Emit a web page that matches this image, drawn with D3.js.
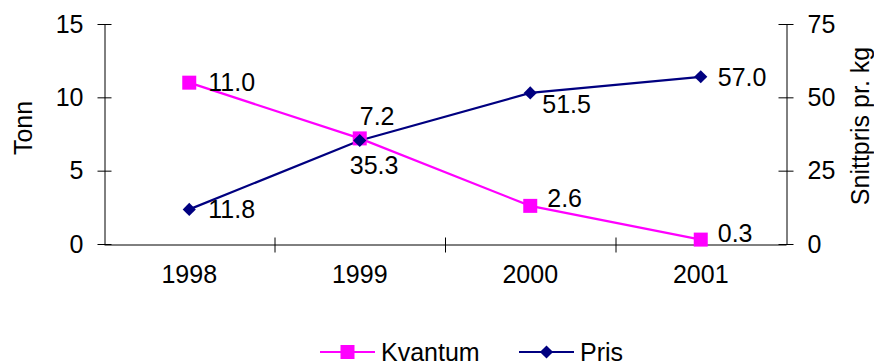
<!DOCTYPE html>
<html>
<head>
<meta charset="utf-8">
<script src="https://cdn.jsdelivr.net/npm/d3@7/dist/d3.min.js"></script>
<style>
  html, body { margin: 0; padding: 0; background: #fff; }
  svg { display: block; font-family: Arial, "Liberation Sans", sans-serif; }
</style>
</head>
<body>
<svg id="chart" width="874" height="362"></svg>
<script>
// Years on the category axis
const years = ["1998", "1999", "2000", "2001"];
// Quantity in tonnes (left axis)
const kvantum = [11.0, 7.2, 2.6, 0.3];
// Average price per kg (right axis)
const pris = [11.8, 35.3, 51.5, 57.0];
// Axis ticks
const leftTicks = [0, 5, 10, 15];
const rightTicks = [0, 25, 50, 75];

// Value label placement per point: [dx, dy, anchor]
const kvantumLabelPos = [[19, 0, "start"], [0, -22, "start"], [17, -8, "start"], [17, -6, "start"]];
const prisLabelPos = [[19, 0, "start"], [-10, 25, "start"], [12, 11, "start"], [17, 0, "start"]];

const W = 874, H = 362;
const plot = { left: 104, right: 786, top: 24, bottom: 244 };
const FONT = 25;
const MAGENTA = "#ff00ff", NAVY = "#000080";

const svg = d3.select("#chart");

const x = d3.scaleBand().domain(years).range([plot.left, plot.right]).padding(0);
const xEdges = d3.scaleLinear().domain([0, years.length]).range([plot.left, plot.right]);
const yL = d3.scaleLinear().domain([0, 15]).range([plot.bottom, plot.top]);
const yR = d3.scaleLinear().domain([0, 75]).range([plot.bottom, plot.top]);
const cx = d => x(d) + x.bandwidth() / 2;

// Left axis
const gL = svg.append("g").attr("transform", `translate(${plot.left + 0.5},0)`)
  .call(d3.axisLeft(yL).tickValues(leftTicks).tickSize(7).tickPadding(14).tickSizeOuter(0));
gL.selectAll(".tick line").attr("x2", -7).attr("x1", 7);

// Right axis
const gR = svg.append("g").attr("transform", `translate(${plot.right + 0.5},0)`)
  .call(d3.axisRight(yR).tickValues(rightTicks).tickSize(7).tickPadding(14).tickSizeOuter(0));
gR.selectAll(".tick line").attr("x1", -8).attr("x2", 7);

// Bottom axis: boundary ticks, then category labels
const gB = svg.append("g").attr("transform", `translate(0,${plot.bottom + 0.5})`)
  .call(d3.axisBottom(xEdges).tickValues([1, 2, 3]).tickFormat("").tickSize(8).tickSizeOuter(0));
gB.selectAll(".tick line").attr("y1", -7).attr("y2", 8);
const gBL = svg.append("g").attr("transform", `translate(0,${plot.bottom})`)
  .call(d3.axisBottom(x).tickSize(0).tickPadding(21));
gBL.select(".domain").remove();

svg.selectAll(".domain, .tick line").attr("stroke", "#000").attr("stroke-width", 1);
svg.selectAll(".tick text").attr("font-size", FONT).attr("fill", "#000")
  .attr("font-family", "Arial, 'Liberation Sans', sans-serif");

// Axis titles
svg.append("text").attr("transform", `translate(32,128) rotate(-90)`)
  .attr("text-anchor", "middle").attr("font-size", FONT).text("Tonn");
svg.append("text").attr("transform", `translate(869,126) rotate(-90)`)
  .attr("text-anchor", "middle").attr("font-size", FONT).text("Snittpris pr. kg");

// Lines
const lineK = d3.line().x((d, i) => cx(years[i])).y(d => yL(d));
const lineP = d3.line().x((d, i) => cx(years[i])).y(d => yR(d));
svg.append("path").datum(kvantum).attr("d", lineK).attr("fill", "none")
  .attr("stroke", MAGENTA).attr("stroke-width", 2.2);
svg.append("path").datum(pris).attr("d", lineP).attr("fill", "none")
  .attr("stroke", NAVY).attr("stroke-width", 2.2);

// Markers
const sq = d3.symbol().type(d3.symbolSquare).size(196);
const dia = d3.symbol().type(d3.symbolDiamond2).size(110);
svg.append("g").selectAll("path").data(kvantum).join("path")
  .attr("d", sq).attr("fill", MAGENTA)
  .attr("transform", (d, i) => `translate(${cx(years[i])},${yL(d)})`);
svg.append("g").selectAll("path").data(pris).join("path")
  .attr("d", dia).attr("fill", NAVY)
  .attr("transform", (d, i) => `translate(${cx(years[i])},${yR(d)})`);

// Value labels
const fmt = d3.format(".1f");
svg.append("g").selectAll("text").data(kvantum).join("text")
  .attr("x", (d, i) => cx(years[i]) + kvantumLabelPos[i][0])
  .attr("y", (d, i) => yL(d) + kvantumLabelPos[i][1])
  .attr("dy", "0.35em").attr("text-anchor", (d, i) => kvantumLabelPos[i][2])
  .attr("font-size", FONT).text(fmt);
svg.append("g").selectAll("text").data(pris).join("text")
  .attr("x", (d, i) => cx(years[i]) + prisLabelPos[i][0])
  .attr("y", (d, i) => yR(d) + prisLabelPos[i][1])
  .attr("dy", "0.35em").attr("text-anchor", (d, i) => prisLabelPos[i][2])
  .attr("font-size", FONT).text(fmt);

// Legend
const legend = [
  { name: "Kvantum", color: MAGENTA, sym: sq, x: 320 },
  { name: "Pris", color: NAVY, sym: dia, x: 519 }
];
const lg = svg.append("g").selectAll("g").data(legend).join("g")
  .attr("transform", d => `translate(${d.x},352)`);
lg.append("line").attr("x1", 0).attr("x2", 55).attr("y1", 0).attr("y2", 0)
  .attr("stroke", d => d.color).attr("stroke-width", 2.2);
lg.append("path").attr("d", d => d.sym()).attr("fill", d => d.color)
  .attr("transform", "translate(27.5,0)");
lg.append("text").attr("x", 61).attr("y", 9).attr("font-size", FONT).text(d => d.name);
</script>
</body>
</html>
